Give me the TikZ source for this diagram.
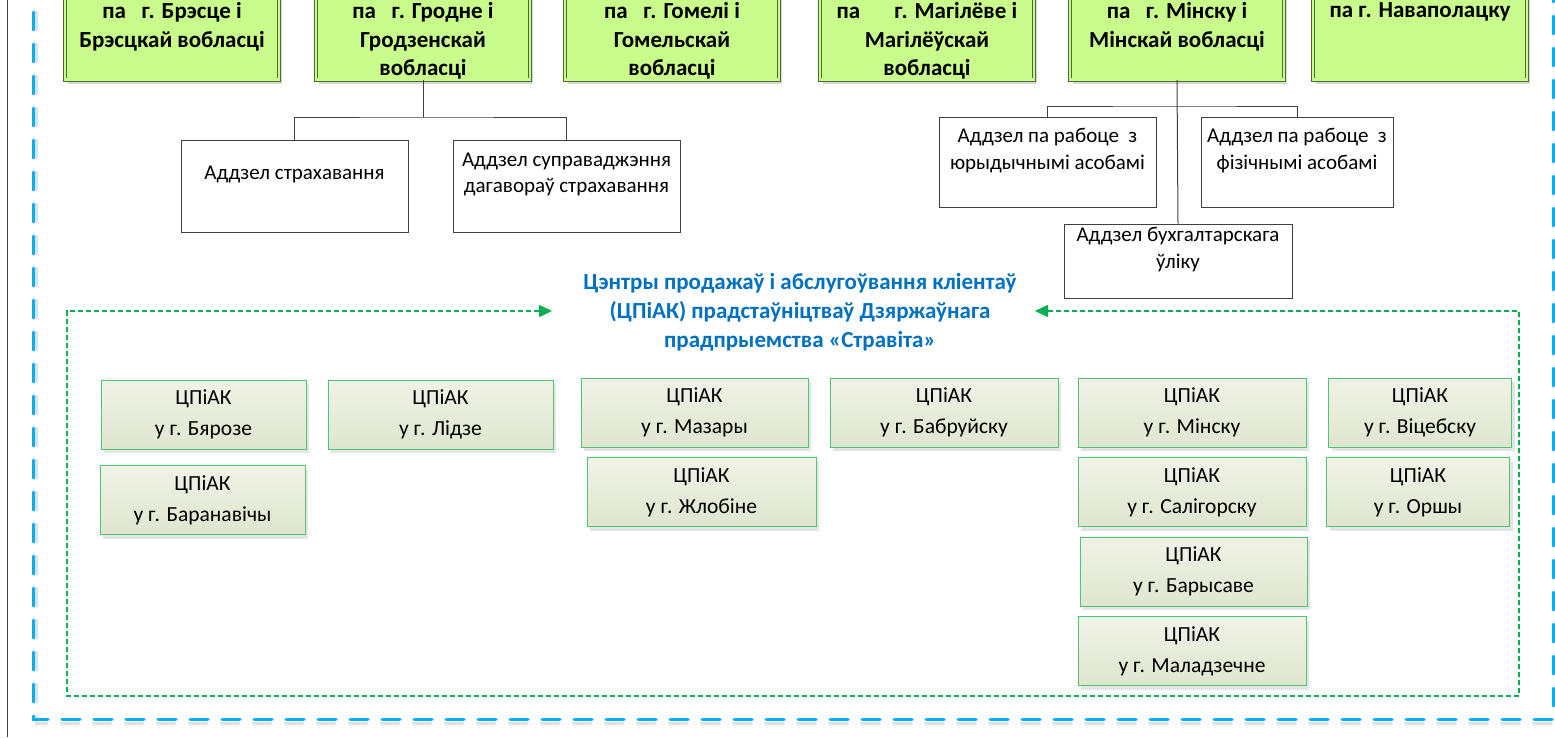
\documentclass[tikz,border=0pt]{standalone}
\usepackage{fontspec}
\setmainfont{Carlito}
\usetikzlibrary{arrows.meta,shadows,calc}

\definecolor{framblue}{HTML}{00B0F0}
\definecolor{dashgreen}{HTML}{00B050}
\definecolor{ttlblue}{HTML}{0070C0}
\definecolor{grnfill}{HTML}{C8FA8C}
\definecolor{grnedge}{HTML}{4F6B35}
\definecolor{cedge}{HTML}{4CC574}
\definecolor{ctop}{HTML}{F0F2E6}
\definecolor{cbot}{HTML}{DFE6CF}

\begin{document}
\begin{tikzpicture}[x=1pt,y=-1pt,
	gbox/.style={draw=grnedge, line width=.7pt, double=grnfill, double distance=2.6pt, fill=grnfill,
		minimum width=214pt, minimum height=150pt, anchor=south,
		drop shadow={shadow xshift=3pt, shadow yshift=-4pt, fill=black!30, opacity=.5}},
	gtext/.style={font=\fontsize{23}{28.5}\selectfont\bfseries, align=center, anchor=north, inner sep=0pt},
	wbox/.style={draw=black!75, fill=white, line width=.8pt, align=center, inner sep=0pt,
		font=\fontsize{21}{26.5}\selectfont},
	cbox/.style={draw=cedge, line width=1pt, top color=ctop, bottom color=cbot, minimum height=69pt,
		align=center, inner sep=0pt, font=\fontsize{21.5}{31}\selectfont,
		drop shadow={shadow xshift=3pt, shadow yshift=-4pt, fill=black!20, opacity=.5}},
	conn/.style={draw=black!75, line width=1pt},
	ttl/.style={font=\fontsize{23}{29}\selectfont\bfseries, text=ttlblue, align=center, inner sep=0pt}]
	\useasboundingbox (0,0) rectangle (1555,737);

	% outer frame
	\draw[black!75, line width=1.2pt] (7.5,0) -- (7.5,737);
	\draw[black!12, line width=3pt, line cap=round, dash pattern=on 18pt off 14pt]
		(36,-20) -- (36,723) -- (1556,723) -- (1556,-20);
	\draw[framblue, line width=3pt, line cap=round, dash pattern=on 18pt off 14pt]
		(33,-20) -- (33,719) -- (1553,719) -- (1553,-20);

	% top row of branches (cut by the page edge)
	\foreach \nm/\cx/\txt in {
		g1/172/{па\ \ \ г. Брэсце і\\Брэсцкай вобласці},
		g2/423/{па\ \ \ г. Гродне і\\Гродзенскай\\вобласці},
		g3/672/{па\ \ \ г. Гомелі і\\Гомельскай\\вобласці},
		g4/927/{па\hspace{34pt}г. Магілёве і\\Магілёўскай\\вобласці},
		g5/1177/{па\ \ \ г. Мінску і\\Мінскай вобласці},
		g6/1420/{па г. Наваполацку}}{
		\node[gbox] (\nm) at (\cx,80) {};
		\node[gtext] (\nm-t) at (\cx,2.5) {\txt};
	}

	% departments
	\node[wbox, minimum width=227pt, minimum height=92pt] (ins) at (294.5,186) {Аддзел страхавання\\\mbox{}};
	\node[wbox, minimum width=227pt, minimum height=92pt] (sup) at (566.5,186) {Аддзел суправаджэння\\дагавораў страхавання\\\mbox{}};
	\node[wbox, minimum width=217pt, minimum height=90pt] (yur) at (1047.5,162) {Аддзел па рабоце\ \ з\\юрыдычнымі асобамі\\\mbox{}};
	\node[wbox, minimum width=192pt, minimum height=90pt] (fiz) at (1297,162) {Аддзел па рабоце\ \ з\\фізічнымі асобамі\\\mbox{}};
	\node[wbox, minimum width=228pt, minimum height=74pt] (buh) at (1178,261) {Аддзел бухгалтарскага\\ўліку\\\mbox{}};

	\coordinate (gj) at (g2.south |- 0,117);
	\coordinate (mj) at (g5.south |- 0,106);
	\draw[conn] (g2.south) -- (gj);
	\draw[conn] (ins.north) |- (gj) -| (sup.north);
	\draw[conn] (g5.south) -- (buh.north);
	\draw[conn] (yur.north) |- (mj) -| (fiz.north);

	% sales and service centres
	\node[ttl] (ttl) at (800,312) {Цэнтры продажаў і абслугоўвання кліентаў\\(ЦПіАК) прадстаўніцтваў Дзяржаўнага\\прадпрыемства «Стравіта»};
	\coordinate (la) at (552,311);
	\coordinate (ra) at (1035,311);
	\coordinate (gtl) at (67,311);
	\coordinate (gbl) at (67,696);
	\coordinate (gbr) at (1519,696);
	\coordinate (gtr) at (1519,311);
	\draw[dashgreen, line width=1.3pt, dash pattern=on 5pt off 3pt,
		{Triangle[length=13pt,width=12pt]}-{Triangle[length=13pt,width=12pt]}]
		(la) -- (gtl) -- (gbl) -- (gbr) -- (gtr) -- (ra);

	\foreach \nm/\cx/\cy/\bw/\city in {
		c1/203.5/414.5/205/Бярозе,
		c2/440.5/414.5/225/Лідзе,
		c3/202.5/500/205/Баранавічы,
		c4/694.5/412.5/227/Мазары,
		c5/701.5/492/229/Жлобіне,
		c6/944/412.5/228/Бабруйску,
		c7/1192/412.5/228/Мінску,
		c8/1192/492/228/Салігорску,
		c9/1193.5/571.5/227/Барысаве,
		c10/1192/651/228/Маладзечне,
		c11/1420/412.5/183/Віцебску,
		c12/1418/492/183/Оршы}{
		\node[cbox, minimum width=\bw pt] (\nm) at (\cx,\cy) {ЦПіАК\\у г. \city};
	}
\end{tikzpicture}
\end{document}
